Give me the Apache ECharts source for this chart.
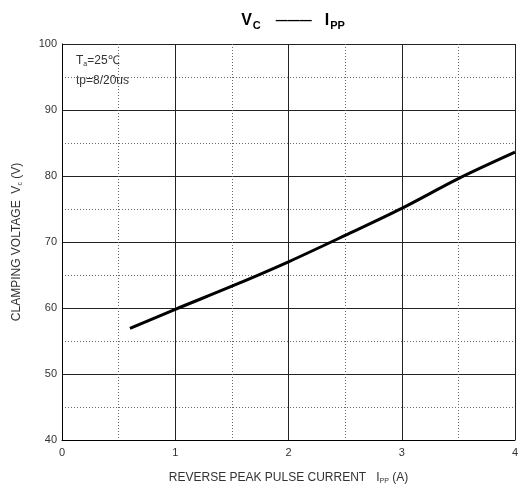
<!DOCTYPE html>
<html><head><meta charset="utf-8">
<script src="https://cdn.jsdelivr.net/npm/echarts@6/dist/echarts.min.js"></script>
<style>html,body{margin:0;padding:0;background:#fff}#c{width:518px;height:491px}</style>
</head><body><div id="c"></div>
<script>
const currentA = [0.6, 1.0, 1.5, 2.0, 2.5, 3.0, 3.5, 4.0];
const clampV = [56.9, 59.8, 63.3, 67.0, 71.0, 75.1, 79.6, 83.6];
const xTicks = [0, 1, 2, 3, 4];
const yTicks = [40, 50, 60, 70, 80, 90, 100];

const chart = echarts.init(document.getElementById('c'));
const F = 'Liberation Sans, Arial, sans-serif';
chart.setOption({
  animation: false,
  backgroundColor: '#fff',
  title: {
    text: '{b|V}{s|C}{d|———}{b|I}{s|PP}',
    left: 288, top: 6, textAlign: 'center',
    textStyle: {
      rich: {
        b: {fontFamily: F, fontSize: 16, fontWeight: 'bold', color: '#000'},
        s: {fontFamily: F, fontSize: 11, fontWeight: 'bold', color: '#000', padding: [9,0,0,1]},
        d: {fontFamily: F, fontSize: 12, color: '#000', padding: [0,13,0,15]}
      }
    }
  },
  grid: {left: 62, top: 44, right: 3, bottom: 51, show: false, outerBoundsMode: 'none', containLabel: false},
  xAxis: {
    type: 'value', min: xTicks[0], max: xTicks[xTicks.length-1], interval: 1,
    axisLine: {show: true, lineStyle: {color: '#000', width: 1}},
    axisTick: {show: false},
    axisLabel: {color: '#333', fontFamily: F, fontSize: 11, margin: 7},
    splitLine: {show: true, lineStyle: {color: '#222', width: 1}},
    minorTick: {show: false, splitNumber: 2},
    minorSplitLine: {show: true, lineStyle: {color: '#666', width: 1, type: [1, 2]}},
    name: '{t|REVERSE PEAK PULSE CURRENT   I}{s|PP}{t| (A)}',
    nameLocation: 'middle', nameGap: 31,
    nameTextStyle: {rich: {
      t: {fontFamily: F, fontSize: 12, color: '#333'},
      s: {fontFamily: F, fontSize: 7, color: '#333', padding: [7,0,0,0]}
    }}
  },
  yAxis: {
    type: 'value', min: yTicks[0], max: yTicks[yTicks.length-1], interval: 10,
    axisLine: {show: true, lineStyle: {color: '#000', width: 1}},
    axisTick: {show: false},
    axisLabel: {color: '#333', fontFamily: F, fontSize: 11, margin: 5},
    splitLine: {show: true, lineStyle: {color: '#222', width: 1}},
    minorTick: {show: false, splitNumber: 2},
    minorSplitLine: {show: true, lineStyle: {color: '#666', width: 1, type: [1, 2]}},
    name: '{t|CLAMPING VOLTAGE  V}{s|c}{t| (V)}',
    nameLocation: 'middle', nameGap: 38, nameRotate: 90,
    nameTextStyle: {rich: {
      t: {fontFamily: F, fontSize: 12, color: '#333'},
      s: {fontFamily: F, fontSize: 7, color: '#333', padding: [7,0,0,0]}
    }}
  },
  graphic: [
    {type: 'text', left: 76, top: 55, style: {
      text: '{t|T}{s|a}{t|=25℃}',
      rich: {t: {fontFamily: F, fontSize: 12, fill: '#333'}, s: {fontFamily: F, fontSize: 7, fill: '#333', padding: [7,0,0,0]}}
    }},
    {type: 'text', left: 76, top: 75, style: {text: 'tp=8/20us', font: '12px ' + F, fill: '#333'}}
  ],
  series: [{
    type: 'line', smooth: 0.3, symbol: 'none',
    data: currentA.map((x, i) => [x, clampV[i]]),
    lineStyle: {color: '#000', width: 3}
  }]
});
</script></body></html>
